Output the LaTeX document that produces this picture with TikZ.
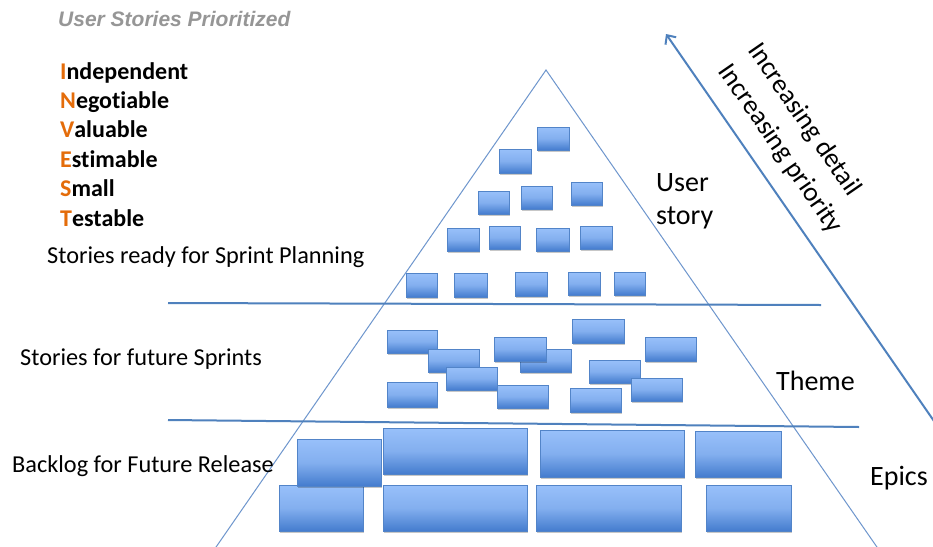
\documentclass[tikz,border=0pt]{standalone}
\usepackage{fontspec}
\setmainfont{Carlito}[Ligatures={NoCommon,NoContextual,NoRare}]
\newfontfamily\titlefont{Liberation Sans}
\usetikzlibrary{arrows.meta,shadows}
\definecolor{lineblue}{RGB}{79,129,189}
\definecolor{thinblue}{RGB}{110,150,205}
\definecolor{boxtop}{RGB}{152,192,250}
\definecolor{boxbot}{RGB}{68,124,206}
\definecolor{boxedge}{RGB}{82,132,200}
\definecolor{invorange}{RGB}{228,108,10}
\definecolor{titlegray}{RGB}{150,150,150}
\tikzset{
  box/.style={draw=boxedge,line width=0.8pt,top color=boxtop,bottom color=boxbot,
    middle color=boxtop!75!boxbot,
    drop shadow={shadow xshift=1.2pt,shadow yshift=-1.5pt,fill=black,opacity=0.22}},
  edge/.style={draw=thinblue,line width=1pt},
  band/.style={draw=lineblue,line width=2pt},
  lbl/.style={anchor=base west,inner sep=0pt,font=\fontsize{24.3}{29}\selectfont},
  big/.style={anchor=base west,inner sep=0pt,font=\fontsize{28}{34}\selectfont},
  inv/.style={anchor=base west,inner sep=0pt,font=\fontsize{24}{29}\selectfont\bfseries},
  rot/.style={inner sep=0pt,font=\fontsize{27}{33}\selectfont,rotate=-55.4}
}
\newcommand{\oi}[1]{\textcolor{invorange}{#1}}
\begin{document}
\begin{tikzpicture}[x=1pt,y=-1pt]
\useasboundingbox[fill=white] (0,0) rectangle (933,546);
% triangle
\coordinate (apex) at (546,70);
\coordinate (bl) at (214,550);
\coordinate (br) at (879,550);
\draw[edge] (bl) -- (apex) -- (br);
% band lines
\coordinate (l1a) at (168,303);
\coordinate (l1b) at (821,305);
\coordinate (l2a) at (168,420);
\coordinate (l2b) at (859,427);
\draw[band] (l1a) -- (l1b);
\draw[band] (l2a) -- (l2b);
% arrow
\coordinate (arrS) at (936,424);
\coordinate (arrE) at (666,34);
\draw[draw=lineblue,line width=2pt,-{Straight Barb[length=7pt,width=13pt,line width=2pt]}] (arrS) -- (arrE);
% top section boxes
\foreach \a/\b/\c/\d in {537/127/569/150, 499/149/531/173,
  478/191/509/214, 521/186/552/209, 571/182/602/205,
  447/228/479/251, 489/226/520/249, 536/228/569/251, 580/226/612/249,
  406/273/437/297, 454/273/487/297, 515/272/547/296, 568/272/600/295, 614/272/645/295}
  \draw[box] (\a,\b) rectangle (\c,\d);
% middle section boxes
\foreach \a/\b/\c/\d in {387/330/437/353, 428/349/479/372, 446/367/497/390,
  387/382/437/407, 520/349/571/372, 494/337/546/361, 497/385/548/408,
  572/319/624/343, 645/337/696/361, 589/360/640/383, 631/378/682/401, 570/388/621/412}
  \draw[box] (\a,\b) rectangle (\c,\d);
% bottom section boxes
\foreach \a/\b/\c/\d in {279/485/363/531, 383/485/527/531, 536/485/681/531, 706/485/791/531,
  297/439/381/486, 383/428/527/474, 540/430/684/477, 695/431/781/477}
  \draw[box] (\a,\b) rectangle (\c,\d);
% texts
\node[anchor=base west,inner sep=0pt,text=titlegray,font=\titlefont\fontsize{21}{24}\selectfont\bfseries\itshape] (title) at (58,27) {User Stories Prioritized};
\node[inv] (i1) at (60,79) {\oi{I}ndependent};
\node[inv] (i2) at (60,108.4) {\oi{N}egotiable};
\node[inv] (i3) at (60,137.8) {\oi{V}aluable};
\node[inv] (i4) at (60,167.2) {\oi{E}stimable};
\node[inv] (i5) at (60,196.6) {\oi{S}mall};
\node[inv] (i6) at (60,226) {\oi{T}estable};
\node[lbl] (ready) at (47,263) {Stories ready for Sprint Planning};
\node[lbl] (future) at (20,365) {Stories for future Sprints};
\node[lbl] (backlog) at (12,472.5) {Backlog for Future Release};
\node[big] (user) at (656,191.5) {User};
\node[big] (story) at (656,224) {story};
\node[big] (theme) at (776,390) {Theme};
\node[big] (epics) at (870,485) {Epics};
\node[rot] (detail) at (804,120) {Increasing detail};
\node[rot] (prio) at (780,149) {Increasing priority};
\end{tikzpicture}
\end{document}
